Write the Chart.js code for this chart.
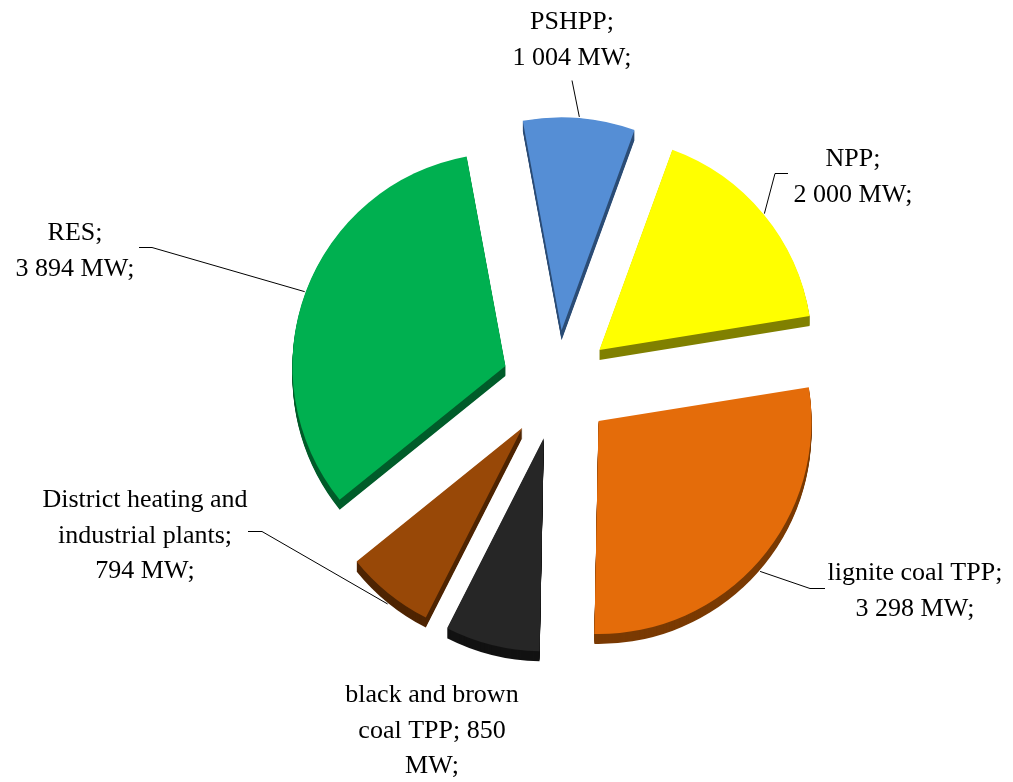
<!DOCTYPE html>
<html>
<head>
<meta charset="utf-8">
<script src="https://cdn.jsdelivr.net/npm/chart.js@4"></script>
<style>
  html, body { margin: 0; padding: 0; background: #fff; }
  canvas { display: block; }
</style>
</head>
<body>
<canvas id="chart" width="1013" height="782"></canvas>
<script>
// installed capacity by source
const categories = ['PSHPP', 'NPP', 'lignite coal TPP', 'black and brown coal TPP', 'District heating and industrial plants', 'RES'];
const capacityMW = [1004, 2000, 3298, 850, 794, 3894];
// label text, "|" = line break, {v} = value
const labelTemplates = [
  'PSHPP;|{v} MW;',
  'NPP;|{v} MW;',
  'lignite coal TPP;|{v} MW;',
  'black and brown|coal TPP; {v}|MW;',
  'District heating and|industrial plants;|{v} MW;',
  'RES;|{v} MW;'
];

const topColors = ['#558ed5', '#ffff00', '#e46c0a', '#262626', '#984807', '#00b050'];
const sideColors = ['#2c4d76', '#808000', '#7a3a03', '#121212', '#4e2402', '#005c2a'];

const EXPLODE = 55;
const DEPTH = 10;

// label placement: center x, first baseline, leader elbow and tick end
const labelLayout = [
  { x: 572, y: 29, elbow: [572, 80], tick: null },
  { x: 853, y: 166, elbow: [775, 173], tick: [788, 173] },
  { x: 915, y: 580, elbow: [810, 588], tick: [825, 588] },
  { x: 432, y: 702, elbow: null, tick: null },
  { x: 145, y: 507, elbow: [262, 531], tick: [248, 531] },
  { x: 75, y: 240, elbow: [152, 247], tick: [139, 247] }
];
const LINE_H = 35.5;

const fmt = v => String(v).replace(/\B(?=(\d{3})+(?!\d))/g, ' ');

const explodePlugin = {
  id: 'explode',
  afterDatasetUpdate(chart, args) {
    args.meta.data.forEach(arc => {
      const mid = (arc.startAngle + arc.endAngle) / 2;
      arc.x += Math.cos(mid) * EXPLODE;
      arc.y += Math.sin(mid) * EXPLODE;
    });
  },
  beforeDatasetsDraw(chart) {
    const ctx = chart.ctx;
    const arcs = chart.getDatasetMeta(0).data;
    ctx.save();
    arcs.forEach((arc, i) => {
      ctx.fillStyle = sideColors[i];
      for (let k = DEPTH; k >= 1; k--) {
        ctx.beginPath();
        ctx.moveTo(arc.x, arc.y + k);
        ctx.arc(arc.x, arc.y + k, arc.outerRadius, arc.startAngle, arc.endAngle);
        ctx.closePath();
        ctx.fill();
      }
    });
    ctx.restore();
  },
  afterDraw(chart) {
    const ctx = chart.ctx;
    const arcs = chart.getDatasetMeta(0).data;
    ctx.save();
    ctx.strokeStyle = '#000';
    ctx.lineWidth = 1;
    arcs.forEach((arc, i) => {
      const lay = labelLayout[i];
      if (lay.elbow) {
        const mid = (arc.startAngle + arc.endAngle) / 2;
        const r = arc.outerRadius + 1;
        const px = arc.x + Math.cos(mid) * r;
        const py = arc.y + Math.sin(mid) * r + (Math.sin(mid) > 0 ? DEPTH : 0);
        ctx.beginPath();
        ctx.moveTo(px, py);
        ctx.lineTo(lay.elbow[0], lay.elbow[1] + 0.5);
        if (lay.tick) ctx.lineTo(lay.tick[0], lay.tick[1] + 0.5);
        ctx.stroke();
      }
    });
    ctx.fillStyle = '#000';
    ctx.font = '26px "Liberation Serif", "Times New Roman", serif';
    ctx.textAlign = 'center';
    ctx.textBaseline = 'alphabetic';
    labelTemplates.forEach((tpl, i) => {
      const lines = tpl.replace('{v}', fmt(capacityMW[i])).split('|');
      lines.forEach((line, j) => {
        ctx.fillText(line, labelLayout[i].x, labelLayout[i].y + j * LINE_H);
      });
    });
    ctx.restore();
  }
};

new Chart(document.getElementById('chart'), {
  type: 'pie',
  data: {
    labels: categories,
    datasets: [{
      data: capacityMW,
      backgroundColor: topColors,
      borderWidth: 0,
      hoverBorderWidth: 0,
      offset: 0,
      hoverOffset: 0
    }]
  },
  options: {
    responsive: false,
    animation: false,
    events: [],
    rotation: -10.5,
    layout: { padding: { top: 172, bottom: 184, left: 344, right: 243 } },
    plugins: {
      legend: { display: false },
      tooltip: { enabled: false }
    }
  },
  plugins: [explodePlugin]
});
</script>
</body>
</html>
